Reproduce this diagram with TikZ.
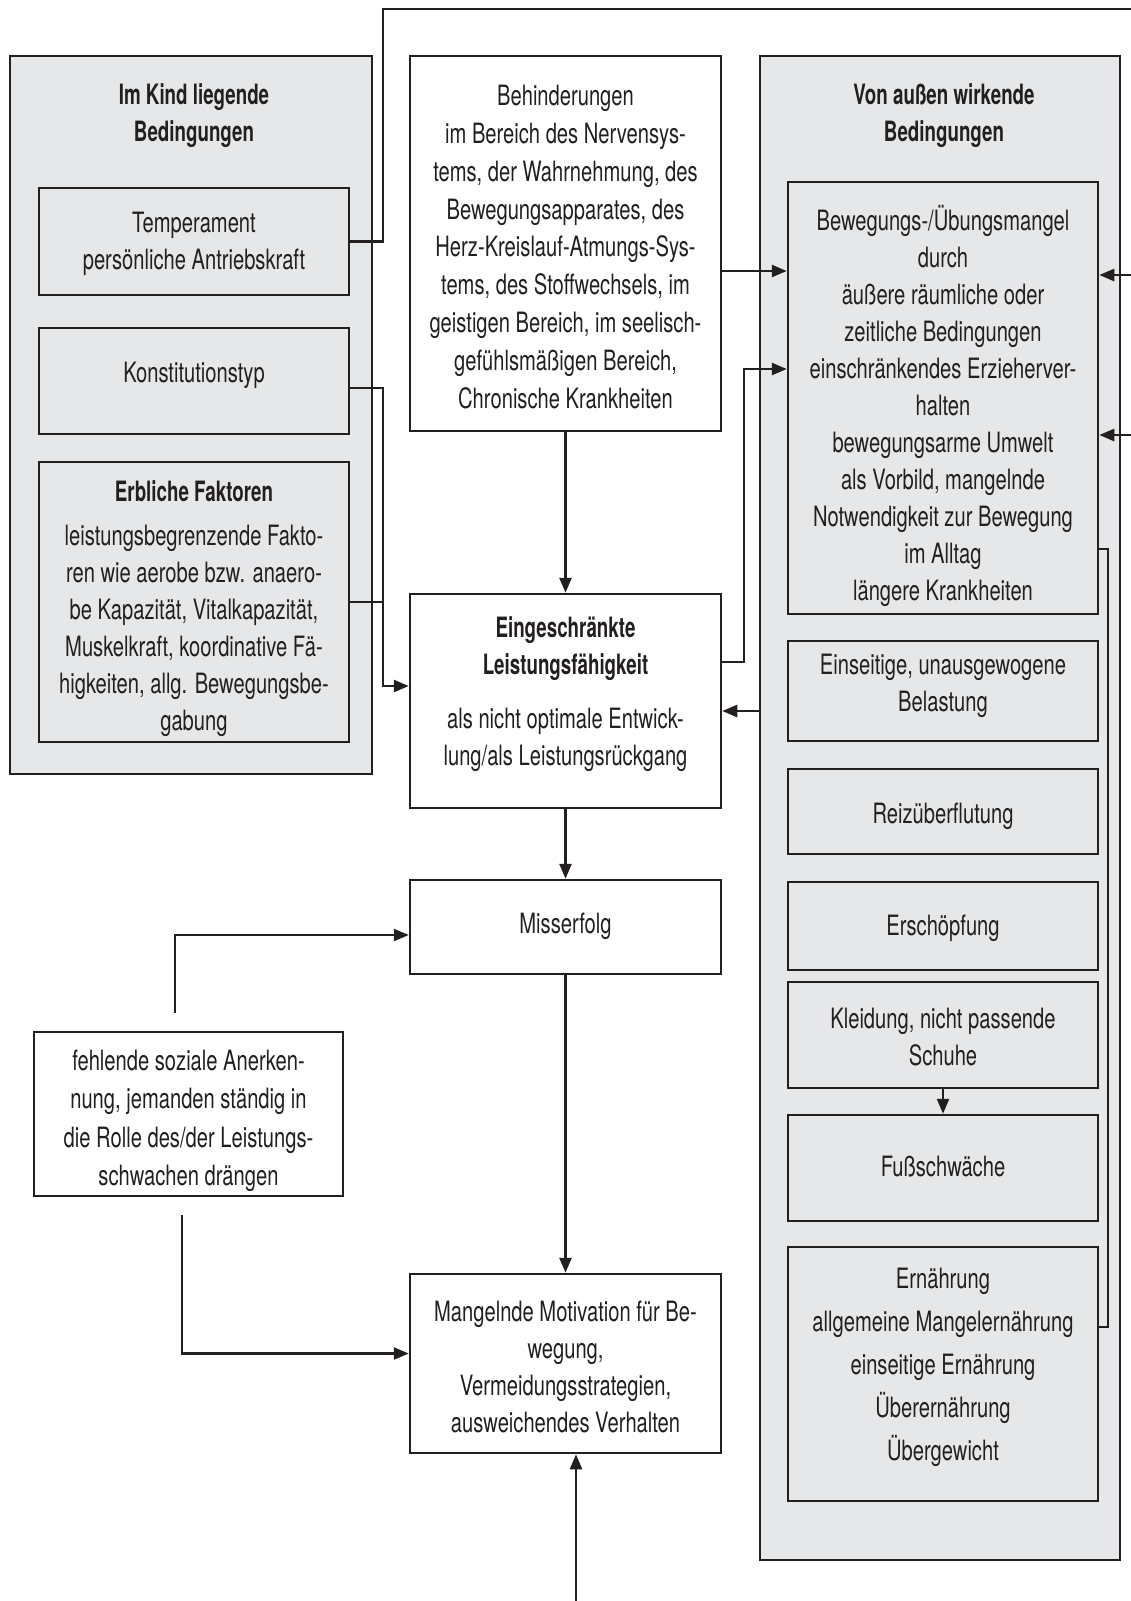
\documentclass[tikz,border=0pt]{standalone}
\usepackage{fontspec}
\setmainfont{TeX Gyre Heros}[FakeStretch=0.72,BoldFeatures={FakeStretch=0.67}]
\usetikzlibrary{arrows.meta}
\definecolor{boxgray}{HTML}{E6E7E8}
\definecolor{ink}{HTML}{231F20}
\begin{document}
\begin{tikzpicture}[x=1pt,y=-1pt,
  box/.style={draw=ink, line width=2.5pt, rectangle, inner sep=0pt},
  graybox/.style={box, fill=boxgray},
  whitebox/.style={box, fill=white},
  txt/.style={align=center, text=ink, inner sep=0pt, font=\fontsize{28}{37}\selectfont},
  btxt/.style={align=center, text=ink, inner sep=0pt, font=\fontsize{28}{37}\selectfont\bfseries},
  conn/.style={draw=ink, line width=2.5pt},
  arr/.style={conn, -{Triangle[length=15pt,width=12pt]}}]
\useasboundingbox (0,0) rectangle (1131,1601);
\fill[white] (0,0) rectangle (1131,1601);

% outer gray boxes
\node[graybox, minimum width=362, minimum height=718] (inner) at (191,415) {};
\node[graybox, minimum width=360, minimum height=1504] (outer) at (940,808) {};

% left column
\node[btxt] (innerT) at (194,116) {Im Kind liegende\\Bedingungen};
\node[graybox, minimum width=310, minimum height=107] (temp) at (194,241.5) {};
\node[txt] (tempT) at (194,244) {Temperament\\persönliche Antriebskraft};
\node[graybox, minimum width=310, minimum height=106] (konst) at (194,381) {};
\node[txt] (konstT) at (194,375) {Konstitutionstyp};
\node[graybox, minimum width=310, minimum height=280] (erb) at (194,602) {};
\node[btxt] (erbT) at (194,491) {Erbliche Faktoren};
\node[txt] (erbL) at (194,631) {leistungsbegrenzende Fakto-\\ren wie aerobe bzw. anaero-\\be Kapazität, Vitalkapazität,\\Muskelkraft, koordinative Fä-\\higkeiten, allg. Bewegungsbe-\\gabung};

% center column
\node[whitebox, minimum width=311, minimum height=375] (behind) at (565.5,243.5) {};
\node[txt, font=\fontsize{28}{37.8}\selectfont] (behindT) at (565.5,247) {Behinderungen\\im Bereich des Nervensys-\\tems, der Wahrnehmung, des\\Bewegungsapparates, des\\Herz-Kreislauf-Atmungs-Sys-\\tems, des Stoffwechsels, im\\geistigen Bereich, im seelisch-\\gefühlsmäßigen Bereich,\\Chronische Krankheiten};
\node[whitebox, minimum width=311, minimum height=214] (eing) at (565.5,701) {};
\node[btxt] (eingT) at (565.5,649) {Eingeschränkte\\Leistungsfähigkeit};
\node[txt] (eingL) at (565.5,740) {als nicht optimale Entwick-\\lung/als Leistungsrückgang};
\node[whitebox, minimum width=311, minimum height=94] (miss) at (565.5,927) {};
\node[txt] (missT) at (565.5,926) {Misserfolg};
\node[whitebox, minimum width=311, minimum height=179] (mang) at (565.5,1363.5) {};
\node[txt] (mangT) at (565.5,1367) {Mangelnde Motivation für Be-\\wegung,\\Vermeidungsstrategien,\\ausweichendes Verhalten};
\node[whitebox, minimum width=309, minimum height=164] (fehl) at (188.5,1114) {};
\node[txt, font=\fontsize{28}{38.5}\selectfont] (fehlT) at (188.5,1121) {fehlende soziale Anerken-\\nung, jemanden ständig in\\die Rolle des/der Leistungs-\\schwachen drängen};

% right column
\node[btxt] (outerT) at (944,116) {Von außen wirkende\\Bedingungen};
\node[graybox, minimum width=310, minimum height=432] (bew) at (943,398) {};
\node[txt] (bewT) at (943,406) {Bewegungs-/Übungsmangel\\durch\\äußere räumliche oder\\zeitliche Bedingungen\\einschränkendes Erzieherver-\\halten\\bewegungsarme Umwelt\\als Vorbild, mangelnde\\Notwendigkeit zur Bewegung\\im Alltag\\längere Krankheiten};
\node[graybox, minimum width=310, minimum height=100] (eins) at (943,691) {};
\node[txt] (einsT) at (943,686) {Einseitige, unausgewogene\\Belastung};
\node[graybox, minimum width=310, minimum height=85] (reiz) at (943,811.5) {};
\node[txt] (reizT) at (943,816) {Reizüberflutung};
\node[graybox, minimum width=310, minimum height=88] (ersch) at (943,926) {};
\node[txt] (erschT) at (943,928) {Erschöpfung};
\node[graybox, minimum width=310, minimum height=106] (kleid) at (943,1035) {};
\node[txt] (kleidT) at (943,1037) {Kleidung, nicht passende\\Schuhe};
\node[graybox, minimum width=310, minimum height=106] (fuss) at (943,1168) {};
\node[txt] (fussT) at (943,1167) {Fußschwäche};
\node[graybox, minimum width=310, minimum height=254] (ern) at (943,1374) {};
\node[txt, font=\fontsize{28}{43}\selectfont] (ernT) at (943,1367) {Ernährung\\allgemeine Mangelernährung\\einseitige Ernährung\\Überernährung\\Übergewicht};

% free ends
\coordinate (topR) at (1131,9);
\coordinate (inR1) at (1131,275);
\coordinate (inR2) at (1131,435);
\coordinate (fTop) at (175,1013);
\coordinate (fBot) at (182,1215);
\coordinate (botIn) at (576,1601);
\coordinate (bh1) at ([yshift=-27.5pt]behind.east);
\coordinate (eg1) at ([yshift=39pt]eing.east);
\coordinate (eg2) at ([yshift=29pt]bew.west);
\coordinate (eg3) at ([yshift=-10pt]eing.east);
\coordinate (kg1) at ([yshift=-7pt]konst.east);
\coordinate (eg4) at ([yshift=15pt]eing.west);
\coordinate (bw1) at ([yshift=-151pt]bew.east);
\coordinate (er1) at ([yshift=47pt]ern.east);

% connectors
\draw[conn] (temp.east) -- (383,241.5) |- (topR);
\draw[conn] (kg1) -| (383,600);
\draw[conn] (erb.east) -- (383,602);
\draw[arr] (383,388) |- (eg4);
\draw[arr] (behind.south) -- (eing.north);
\draw[arr] (bh1) -- (bh1 -| bew.west);
\draw[arr] (eg1) -- (744,662) |- (eg2);
\draw[arr] (eg3 -| outer.west) -- (eg3);
\draw[arr] (eing.south) -- (miss.north);
\draw[arr] (miss.south) -- (mang.north);
\draw[arr] (fTop) |- ([yshift=-8pt]miss.west);
\draw[arr] (fBot) |- ([yshift=10pt]mang.west);
\draw[arr] (botIn) -- (botIn |- mang.south);
\draw[arr] (inR1) -- (inR1 -| bew.east);
\draw[arr] (inR2) -- (inR2 -| bew.east);
\draw[conn] (bw1) -- (1108,549) -- (1108,1327) -- (er1);
\draw[arr] (kleid.south) -- (fuss.north);
\end{tikzpicture}
\end{document}
